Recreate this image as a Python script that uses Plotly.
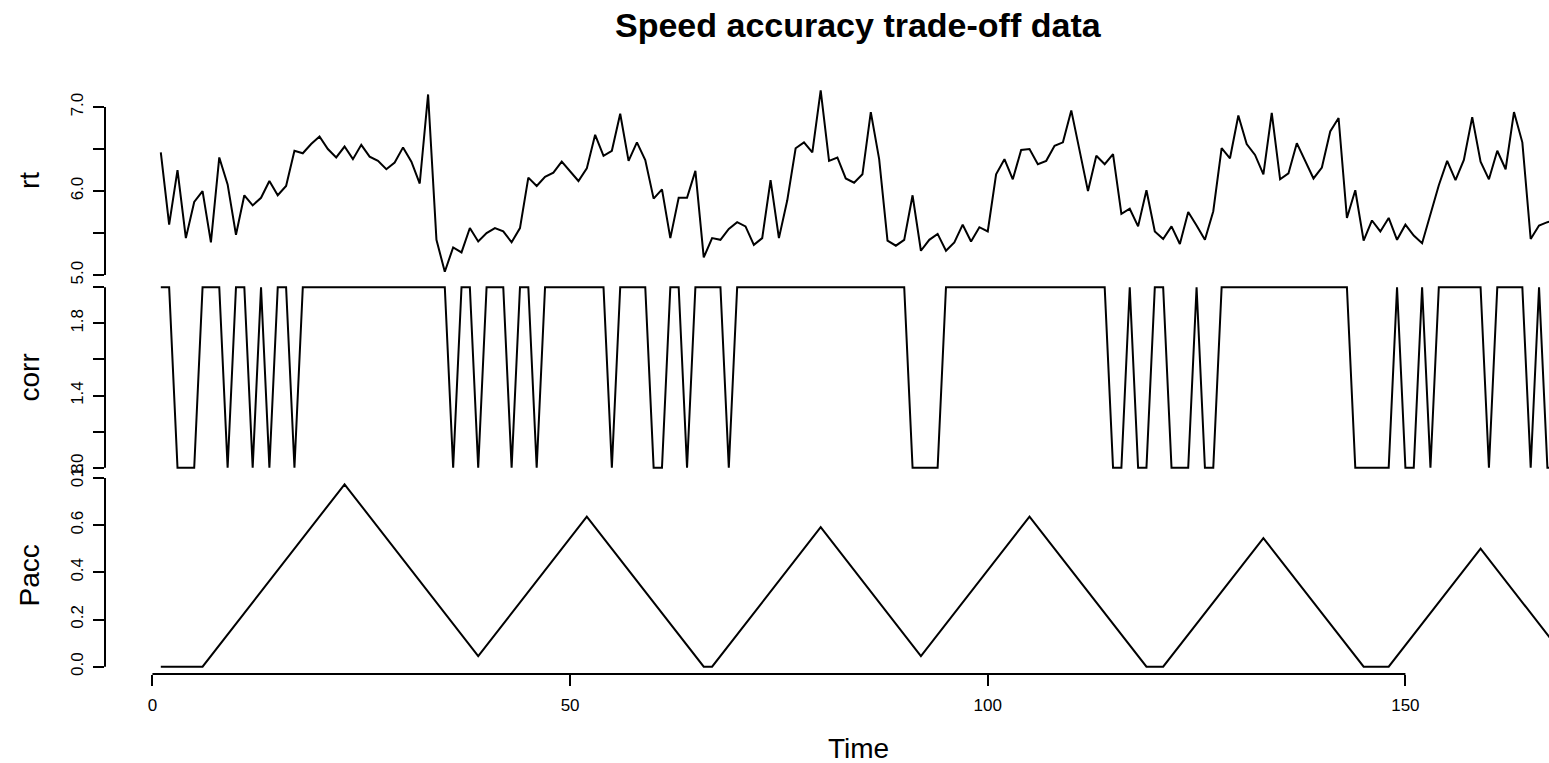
import plotly.graph_objects as go

# ---------------- data ----------------
time = list(range(1, 169))

rt = [6.46, 5.60, 6.25, 5.44, 5.87, 6.00, 5.39, 6.40, 6.08, 5.48,
      5.95, 5.83, 5.92, 6.12, 5.95, 6.06, 6.48, 6.45, 6.56, 6.65,
      6.50, 6.40, 6.53, 6.38, 6.55, 6.41, 6.36, 6.26, 6.34, 6.52,
      6.35, 6.09, 7.15, 5.42, 5.04, 5.33, 5.27, 5.56, 5.40, 5.50,
      5.56, 5.52, 5.39, 5.56, 6.16, 6.06, 6.17, 6.22, 6.35, 6.23,
      6.12, 6.27, 6.67, 6.42, 6.48, 6.92, 6.36, 6.58, 6.37, 5.91,
      6.02, 5.44, 5.92, 5.92, 6.24, 5.21, 5.44, 5.42, 5.55, 5.63,
      5.58, 5.36, 5.44, 6.13, 5.44, 5.89, 6.51, 6.58, 6.46, 7.20,
      6.36, 6.40, 6.15, 6.10, 6.20, 6.94, 6.38, 5.41, 5.35, 5.42,
      5.95, 5.29, 5.42, 5.49, 5.29, 5.39, 5.60, 5.40, 5.57, 5.52,
      6.20, 6.38, 6.14, 6.49, 6.50, 6.32, 6.36, 6.54, 6.58, 6.96,
      6.47, 6.00, 6.42, 6.32, 6.44, 5.73, 5.79, 5.58, 6.01, 5.52,
      5.43, 5.58, 5.37, 5.75, 5.59, 5.42, 5.76, 6.51, 6.39, 6.90,
      6.56, 6.43, 6.20, 6.93, 6.14, 6.21, 6.57, 6.36, 6.15, 6.28,
      6.71, 6.87, 5.68, 6.01, 5.41, 5.65, 5.52, 5.68, 5.42, 5.60,
      5.47, 5.38, 5.73, 6.07, 6.36, 6.13, 6.37, 6.88, 6.35, 6.14,
      6.48, 6.26, 6.94, 6.58, 5.43, 5.59, 5.63, 5.65]

corr = [2, 2, 1, 1, 1, 2, 2, 2, 1, 2,
        2, 1, 2, 1, 2, 2, 1, 2, 2, 2,
        2, 2, 2, 2, 2, 2, 2, 2, 2, 2,
        2, 2, 2, 2, 2, 1, 2, 2, 1, 2,
        2, 2, 1, 2, 2, 1, 2, 2, 2, 2,
        2, 2, 2, 2, 1, 2, 2, 2, 2, 1,
        1, 2, 2, 1, 2, 2, 2, 2, 1, 2,
        2, 2, 2, 2, 2, 2, 2, 2, 2, 2,
        2, 2, 2, 2, 2, 2, 2, 2, 2, 2,
        1, 1, 1, 1, 2, 2, 2, 2, 2, 2,
        2, 2, 2, 2, 2, 2, 2, 2, 2, 2,
        2, 2, 2, 2, 1, 1, 2, 1, 1, 2,
        2, 1, 1, 1, 2, 1, 1, 2, 2, 2,
        2, 2, 2, 2, 2, 2, 2, 2, 2, 2,
        2, 2, 2, 1, 1, 1, 1, 1, 2, 1,
        1, 2, 1, 2, 2, 2, 2, 2, 2, 1,
        2, 2, 2, 2, 1, 2, 1, 1]

# Pacc is piecewise linear; values at its turning points
pacc_time = [1, 6, 23, 39, 52, 66, 67, 80, 92, 105, 119, 121, 133, 145, 148, 159, 168]
pacc = [0.0, 0.0, 0.773, 0.045, 0.636, 0.0, 0.0, 0.591, 0.045, 0.636,
        0.0, 0.0, 0.545, 0.0, 0.0, 0.5, 0.091]

rt_ticks = [5.0, 5.5, 6.0, 6.5, 7.0]
rt_ticktext = ["5.0", "", "6.0", "", "7.0"]
corr_ticks = [1.0, 1.2, 1.4, 1.6, 1.8, 2.0]
corr_ticktext = ["1.0", "", "1.4", "", "1.8", ""]
pacc_ticks = [0.0, 0.2, 0.4, 0.6, 0.8]
pacc_ticktext = ["0.0", "0.2", "0.4", "0.6", "0.8"]
x_ticks = [0, 50, 100, 150]
x_ticktext = ["0", "50", "100", "150"]

# ---------------- figure ----------------
FONT = "Liberation Sans, Arial, Helvetica, sans-serif"
W, H = 1549, 763
ML, MR, MT, MB = 105, 0, 83, 89
PW = W - ML - MR
PH = H - MT - MB


def r_range(vals):
    lo, hi = min(vals), max(vals)
    d = (hi - lo) * 0.04
    return [lo - d, hi + d]


x_lo = r_range(time)[0]
px_per_unit = 8.353
x_range = [x_lo, x_lo + PW / px_per_unit]

fig = go.Figure()
line = dict(color="black", width=2)
fig.add_trace(go.Scatter(x=time, y=rt, mode="lines", line=line, xaxis="x", yaxis="y3"))
fig.add_trace(go.Scatter(x=time, y=corr, mode="lines", line=line, xaxis="x", yaxis="y2"))
fig.add_trace(go.Scatter(x=pacc_time, y=pacc, mode="lines", line=line, xaxis="x", yaxis="y"))


def yax(domain, rng, tv, tt):
    return dict(domain=domain, range=rng, anchor="x", showline=False, showgrid=False,
                zeroline=False, ticks="outside", ticklen=11, tickwidth=2, tickcolor="black",
                tickvals=tv, ticktext=tt, tickangle=-90, ticklabelstandoff=3,
                tickfont=dict(family=FONT, size=17, color="black"), fixedrange=True)


dom_pacc = [0.0, 197 / PH]
dom_corr = [199 / PH, 394 / PH]
dom_rt = [395 / PH, 1.0]

fig.update_layout(
    width=W, height=H,
    margin=dict(l=ML, r=MR, t=MT, b=MB, pad=0),
    paper_bgcolor="white", plot_bgcolor="white",
    showlegend=False,
    xaxis=dict(range=x_range, anchor="y", showline=False, showgrid=False, zeroline=False,
               ticks="outside", ticklen=11, tickwidth=2, tickcolor="black",
               tickvals=x_ticks, ticktext=x_ticktext, ticklabelstandoff=5,
               tickfont=dict(family=FONT, size=17, color="black")),
    yaxis=yax(dom_pacc, r_range(pacc), pacc_ticks, pacc_ticktext),
    yaxis2=yax(dom_corr, r_range(corr), corr_ticks, corr_ticktext),
    yaxis3=yax(dom_rt, r_range(rt), rt_ticks, rt_ticktext),
)

# axis lines spanning first to last tick (R style)
shapes = []
for yref, tv in (("y", pacc_ticks), ("y2", corr_ticks), ("y3", rt_ticks)):
    shapes.append(dict(type="line", xref="paper", yref=yref, x0=0, x1=0,
                       y0=min(tv), y1=max(tv), line=dict(color="black", width=2)))
shapes.append(dict(type="line", xref="x", yref="paper", x0=min(x_ticks), x1=max(x_ticks),
                   y0=0, y1=0, line=dict(color="black", width=2)))
fig.update_layout(shapes=shapes)

# labels
lab_x = (29 - ML) / PW
ann = []
for name, dom in (("rt", dom_rt), ("corr", dom_corr), ("Pacc", dom_pacc)):
    ann.append(dict(text=name, xref="paper", yref="paper", x=lab_x, y=(dom[0] + dom[1]) / 2,
                    xanchor="center", yanchor="middle", textangle=-90, showarrow=False,
                    font=dict(family=FONT, size=28, color="black")))
cx = (858 - ML) / PW
ann.append(dict(text="Time", xref="paper", yref="paper", x=cx, y=(H - MB - 748) / PH,
                xanchor="center", yanchor="middle", showarrow=False,
                font=dict(family=FONT, size=28, color="black")))
ann.append(dict(text="<b>Speed accuracy trade-off data</b>", xref="paper", yref="paper",
                x=cx, y=(H - MB - 25) / PH, xanchor="center", yanchor="middle",
                showarrow=False, font=dict(family=FONT, size=34, color="black")))
fig.update_layout(annotations=ann)

fig.write_html("out.html")
